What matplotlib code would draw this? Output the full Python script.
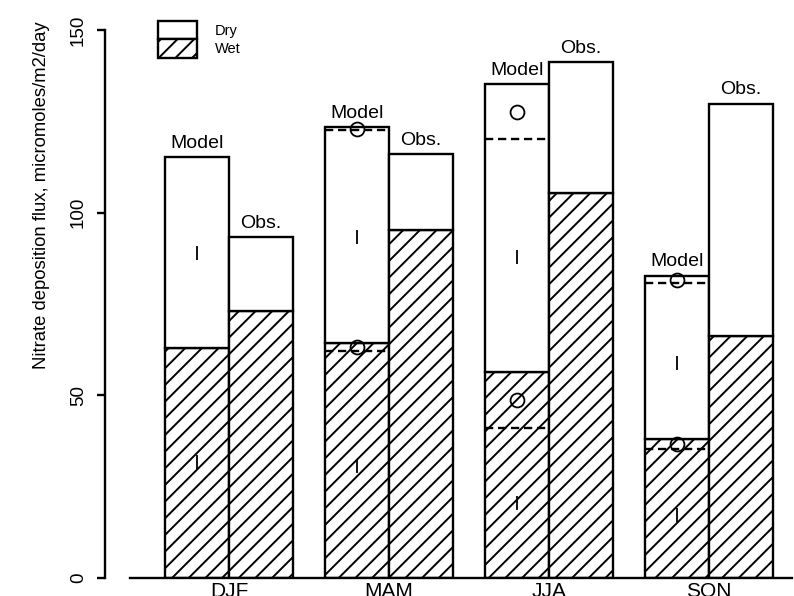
import matplotlib.pyplot as plt
import numpy as np

plt.rcParams['font.family'] = ['Liberation Sans', 'DejaVu Sans']
plt.rcParams['hatch.linewidth'] = 1.4

# seasonal nitrate deposition, model vs observed (dry on top of wet)
seasons = ['DJF', 'MAM', 'JJA', 'SON']
model_wet = [63.0, 64.3, 56.4, 38.0]
model_total = [115.2, 123.4, 135.2, 82.8]
obs_wet = [73.1, 95.3, 105.4, 66.2]
obs_total = [93.3, 116.0, 141.2, 129.8]

# dashed reference levels drawn across the model bar
dash_upper = [np.nan, 122.5, 120.2, 80.7]
dash_lower = [np.nan, 62.1, 41.0, 35.3]
# "O" and "I" symbols on the model bar
circ_upper = [np.nan, 123.0, 127.6, 81.6]
circ_lower = [np.nan, 63.2, 48.7, 36.7]
bar_upper = [89.0, 93.3, 87.9, 58.9]
bar_lower = [31.8, 30.7, 20.5, 17.2]

dpi = 100
fig = plt.figure(figsize=(7.94, 5.96), dpi=dpi)
ax = fig.add_axes([105 / 794, 1 - 578 / 596, 689 / 794, 548 / 596])

centers = np.arange(4) * 2.5
xm = centers - 0.5
xo = centers + 0.5
lw = 1.7

ax.bar(xm, model_wet, width=1, color='white', edgecolor='black', hatch='//', lw=lw)
ax.bar(xm, np.array(model_total) - np.array(model_wet), bottom=model_wet, width=1,
       color='white', edgecolor='black', lw=lw)
ax.bar(xo, obs_wet, width=1, color='white', edgecolor='black', hatch='//', lw=lw)
ax.bar(xo, np.array(obs_total) - np.array(obs_wet), bottom=obs_wet, width=1,
       color='white', edgecolor='black', lw=lw)

ax.hlines(dash_upper, xm - 0.5, xm + 0.5, colors='black', lw=lw, linestyles=(0, (3.5, 2)))
ax.hlines(dash_lower, xm - 0.5, xm + 0.5, colors='black', lw=lw, linestyles=(0, (3.5, 2)))

ax.plot(xm, circ_upper, ls='none', marker='o', ms=10, mfc='none', mec='black', mew=1.3)
ax.plot(xm, circ_lower, ls='none', marker='o', ms=10, mfc='none', mec='black', mew=1.3)
ax.plot(xm, bar_upper, ls='none', marker='|', ms=9.5, mec='black', mew=1.3)
ax.plot(xm, bar_lower, ls='none', marker='|', ms=9.5, mec='black', mew=1.3)

for i in range(4):
    ax.annotate('Model', (xm[i], model_total[i]), xytext=(0, 4), textcoords='offset points',
                ha='center', va='bottom', fontsize=14)
    ax.annotate('Obs.', (xo[i], obs_total[i]), xytext=(0, 4), textcoords='offset points',
                ha='center', va='bottom', fontsize=14)

# legend boxes
ax.bar(-0.8, 5.0, bottom=147.5, width=0.61, color='white', edgecolor='black', lw=lw, clip_on=False)
ax.bar(-0.8, 5.2, bottom=142.3, width=0.61, color='white', edgecolor='black', hatch='//',
       lw=lw, clip_on=False)
ax.text(-0.22, 149.8, 'Dry', fontsize=10.5, va='center', ha='left')
ax.text(-0.22, 144.8, 'Wet', fontsize=10.5, va='center', ha='left')

ax.set_xlim(-1.9375, 8.828)
ax.set_ylim(0, 150)
ax.set_yticks([0, 50, 100, 150])
ax.tick_params(axis='y', length=6, width=lw, labelsize=13.5, labelrotation=90, pad=7)
for t in ax.get_yticklabels():
    t.set_va('center')
ax.set_xticks(centers, seasons)
ax.tick_params(axis='x', length=0, labelsize=15, pad=3)

ax.spines['top'].set_visible(False)
ax.spines['right'].set_visible(False)
ax.spines['left'].set_linewidth(lw)
ax.spines['bottom'].set_linewidth(lw)
ax.spines['left'].set_bounds(0, 150)
ax.spines['bottom'].set_bounds(-1.55, 8.8)

fig.text(42 / 794, 1 - 195 / 596, 'Nitrate deposition flux, micromoles/m2/day',
         rotation=90, ha='center', va='center', fontsize=13.3)

fig.savefig('out.png', dpi=dpi)
